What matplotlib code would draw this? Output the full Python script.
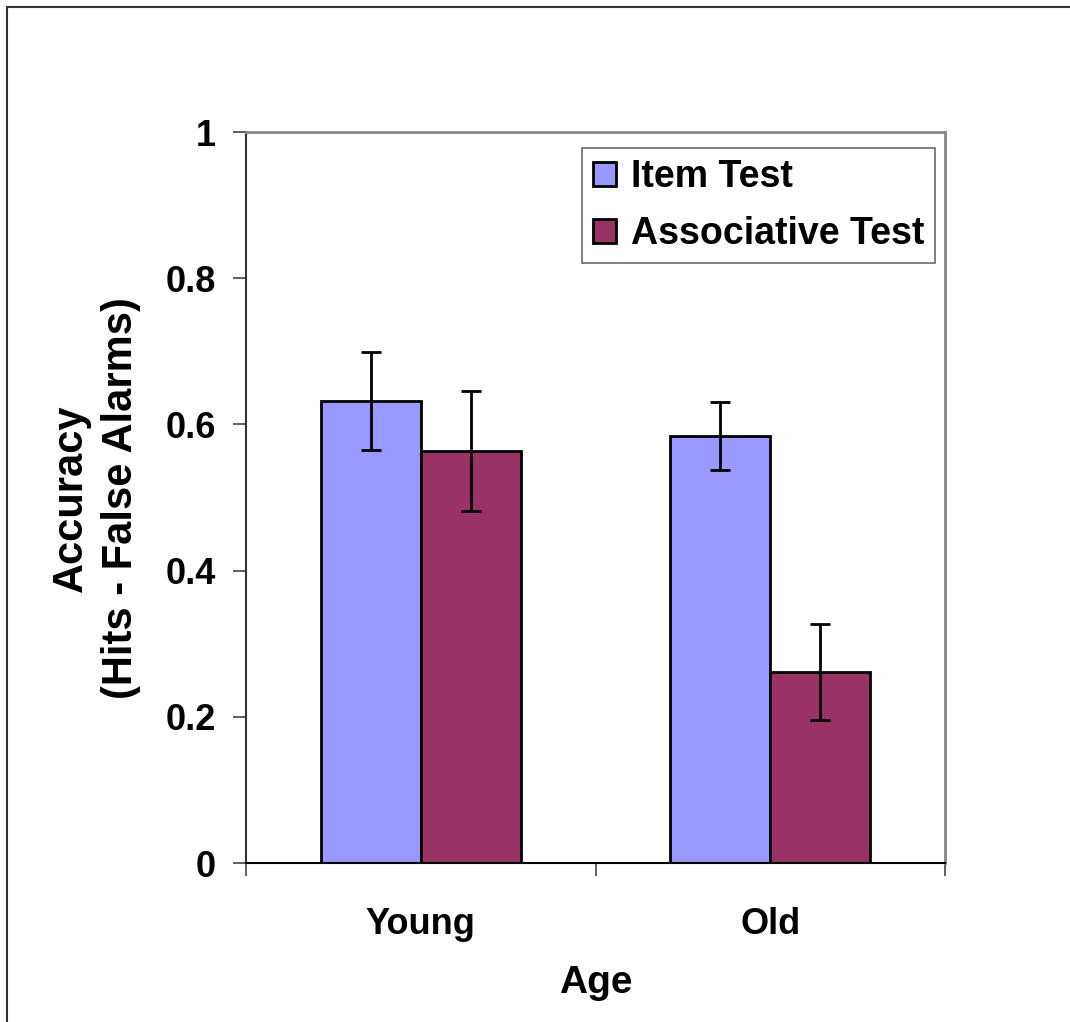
import matplotlib
matplotlib.use("Agg")
import matplotlib.pyplot as plt
from matplotlib.lines import Line2D
import numpy as np

groups = ["Young", "Old"]
series = ["Item Test", "Associative Test"]
item_vals = [0.632, 0.584]
item_err = [0.067, 0.046]
assoc_vals = [0.564, 0.261]
assoc_err = [0.082, 0.066]
yticks = [0, 0.2, 0.4, 0.6, 0.8, 1]
ytick_labels = ["0", "0.2", "0.4", "0.6", "0.8", "1"]

plt.rcParams['font.family'] = ['Liberation Sans', 'DejaVu Sans']
plt.rcParams['font.weight'] = 'bold'

fig = plt.figure(figsize=(10.7, 10.22), dpi=100)
ax = fig.add_axes([246/1070, 1-863/1022, (945-246)/1070, (863-132)/1022])

x = np.arange(len(groups))
w = 0.286
ax.bar(x - w/2, item_vals, w, color="#9999FF", edgecolor="black", linewidth=2, label=series[0], zorder=2)
ax.bar(x + w/2, assoc_vals, w, color="#993366", edgecolor="black", linewidth=2, label=series[1], zorder=2)
ax.errorbar(x - w/2, item_vals, yerr=item_err, fmt="none", ecolor="black", elinewidth=2, capsize=7, capthick=2, zorder=3)
ax.errorbar(x + w/2, assoc_vals, yerr=assoc_err, fmt="none", ecolor="black", elinewidth=2, capsize=7, capthick=2, zorder=3)

ax.set_xlim(-0.5, 1.5)
ax.set_ylim(0, 1)
ax.set_yticks(yticks)
ax.set_yticklabels(ytick_labels, fontsize=26, fontweight='bold')
ax.tick_params(axis='y', direction='out', length=9.5, width=1.2, pad=12, color='#444444')

ax.set_xticks([-0.5, 0.5, 1.5])
ax.set_xticklabels(["", "", ""])
ax.tick_params(axis='x', which='major', direction='out', length=9.5, width=1.2, color='#444444')
ax.set_xticks(x, minor=True)
ax.set_xticklabels(groups, minor=True, fontsize=26, fontweight='bold')
ax.tick_params(axis='x', which='minor', length=0, pad=32)

for s in ['top', 'right']:
    ax.spines[s].set_color('#888888')
    ax.spines[s].set_linewidth(2)
ax.spines['left'].set_color('#333333')
ax.spines['left'].set_linewidth(1.5)
ax.spines['bottom'].set_color('black')
ax.spines['bottom'].set_linewidth(1.5)

ax.set_xlabel("Age", fontsize=28, fontweight='bold', labelpad=16)
fig.text(96/1070, 1-498/1022, "Accuracy\n(Hits - False Alarms)", rotation=90,
         ha='center', va='center', fontsize=30, fontweight='bold', linespacing=1.3)

leg = ax.legend(loc='upper right', bbox_to_anchor=(0.986, 0.978), fontsize=27,
                frameon=True, fancybox=False, edgecolor='#444444',
                handlelength=0.6, handleheight=0.6, handletextpad=0.4,
                borderpad=0.3, labelspacing=0.55, borderaxespad=0)
leg.get_frame().set_linewidth(1.2)
for t in leg.get_texts():
    t.set_fontweight('bold')

# figure border (left and top)
fig.add_artist(Line2D([7/1070, 7/1070], [0, 1-7/1022], color='#333333', linewidth=1.5, transform=fig.transFigure))
fig.add_artist(Line2D([7/1070, 1], [1-7/1022, 1-7/1022], color='#333333', linewidth=1.5, transform=fig.transFigure))

fig.savefig("out.png", dpi=100)
